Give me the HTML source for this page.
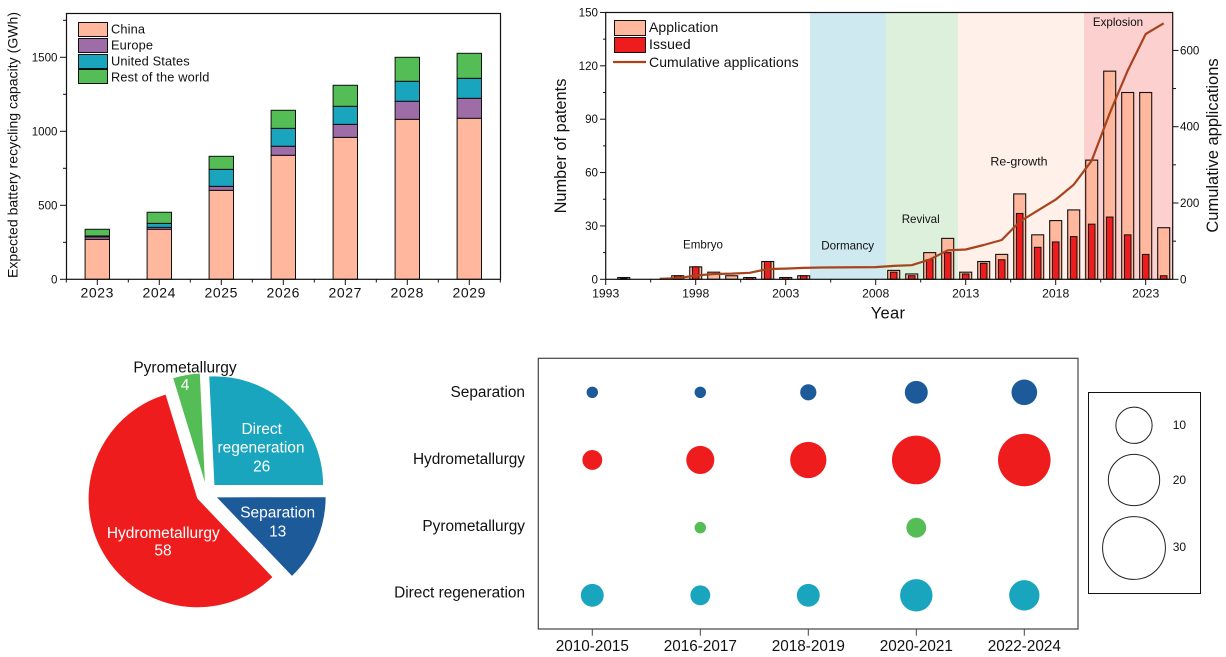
<!DOCTYPE html>
<html lang="en">
<head>
<meta charset="utf-8">
<title>Battery recycling charts</title>
<style>
html,body{margin:0;padding:0;background:#fff;}
svg{display:block;font-family:"Liberation Sans",Arial,sans-serif;fill:#111;}
text{fill:#111;}
</style>
</head>
<body>
<svg id="figure" xmlns="http://www.w3.org/2000/svg" width="1226" height="657" viewBox="0 0 1226 657">
  <rect x="0" y="0" width="1226" height="657" fill="#fff"/>

  <g id="capacity">
    <g id="capacity-marks"></g>
    <rect x="66.5" y="13.5" width="434" height="265.8" fill="none" stroke="#111" stroke-width="1.2"/>
    <g id="capacity-axes"></g>
    <text transform="translate(17.5 145) rotate(-90)" text-anchor="middle" font-size="14" textLength="266" lengthAdjust="spacing">Expected battery recycling capacity (GWh)</text>
    <g font-size="12.8" letter-spacing="0.15">
      <rect x="78.5" y="22.5" width="29" height="14" fill="#ffb89e" stroke="#111" stroke-width="1"/>
      <text x="111" y="33.5">China</text>
      <rect x="78.5" y="38.5" width="29" height="14" fill="#9e6da8" stroke="#111" stroke-width="1"/>
      <text x="111" y="49.5">Europe</text>
      <rect x="78.5" y="54.5" width="29" height="14" fill="#1aa5bf" stroke="#111" stroke-width="1"/>
      <text x="111" y="65.5">United States</text>
      <rect x="78.5" y="69.5" width="29" height="14" fill="#55bd55" stroke="#111" stroke-width="1"/>
      <text x="111" y="81.5">Rest of the world</text>
    </g>
  </g>

  <g id="patents">
    <g id="patent-bands"></g>
    <g id="patent-marks"></g>
    <path id="patent-line" fill="none" stroke="#a8431c" stroke-width="2.2" stroke-linejoin="round"/>
    <rect x="605.7" y="12.5" width="567" height="266.8" fill="none" stroke="#111" stroke-width="1.2"/>
    <g id="patent-axes"></g>
    <text x="888" y="318.5" text-anchor="middle" font-size="16.5" letter-spacing="0.3">Year</text>
    <text transform="translate(566 146) rotate(-90)" text-anchor="middle" font-size="16.4">Number of patents</text>
    <text transform="translate(1218 145.5) rotate(-90)" text-anchor="middle" font-size="16.5">Cumulative applications</text>
    <g font-size="11.6" text-anchor="middle">
      <text x="703" y="248.5">Embryo</text>
      <text x="847.7" y="249.5">Dormancy</text>
      <text x="920.7" y="223">Revival</text>
      <text x="1019" y="165.7" font-size="12.4">Re-growth</text>
      <text x="1118" y="26">Explosion</text>
    </g>
    <g font-size="14" letter-spacing="0.08">
      <rect x="614.5" y="20.5" width="31" height="15" fill="#ffb89e" stroke="#111" stroke-width="1"/>
      <text x="649" y="32">Application</text>
      <rect x="614.5" y="37.5" width="31" height="15" fill="#ee1c1c" stroke="#111" stroke-width="1"/>
      <text x="649" y="49">Issued</text>
      <line x1="613" x2="646" y1="62" y2="62" stroke="#a8431c" stroke-width="2.2"/>
      <text x="649" y="67">Cumulative applications</text>
    </g>
  </g>

  <g id="pie"></g>

  <g id="bubble">
    <rect x="538.3" y="358.3" width="539.7" height="270.7" fill="none" stroke="#444" stroke-width="1.2"/>
    <g id="bubble-marks"></g>
    <g id="bubble-axes"></g>
    <g>
      <rect x="1088.5" y="392.5" width="112" height="201" fill="none" stroke="#111" stroke-width="1"/>
      <g id="size-legend-items"></g>
    </g>
  </g>
</svg>

<script>
// ---------- Capacity chart data ----------
const capacityYears = ['2023','2024','2025','2026','2027','2028','2029'];
const capacityChina = [270,338,601,838,959,1081,1088];
const capacityEurope = [16,13,27,61,88,122,135];
const capacityUS = [7,27,115,121,122,135,135];
const capacityRest = [45,75,88,122,142,162,169];
const capacityTicks = [0,500,1000,1500];
const capacityMinorTicks = [250,750,1250,1750];

// ---------- Patent chart data ----------
const patentYears = [1994,1997,1998,1999,2000,2001,2002,2003,2004,2009,2010,2011,2012,2013,2014,2015,2016,2017,2018,2019,2020,2021,2022,2023,2024];
const patentApplications = [1,2,7,4,2,1,10,1,2,5,3,15,23,4,10,14,48,25,33,39,67,117,105,105,29];
const patentIssued = [0.5,2,7,0,0,1,10,1,2,4,2,11,15,3,9,11,37,18,21,24,31,35,25,14,2];
const cumulativeYears = [1996,1997,1998,1999,2000,2001,2002,2003,2004,2005,2008,2009,2010,2011,2012,2013,2014,2015,2016,2017,2018,2019,2020,2021,2022,2023,2024];
const cumulativeValues = [1,3,10,14,15,17,27,28,30,31,32,35,37,52,76,78,90,103,151,180,209,248,311,435,547,643,671];
const patentYearTicks = [1993,1998,2003,2008,2013,2018,2023];
const patentCountTicks = [0,30,60,90,120,150];
const patentCumulativeTicks = [0,200,400,600];
const patentCumulativeMinorTicks = [100,300,500];
const stageNames = ['dormancy','revival','re-growth','explosion'];
const stageStartYears = [2004.35,2008.57,2012.57,2019.57];
const stageEndYears = [2008.57,2012.57,2019.57,2024.5];
const stageColors = ['#cfe9f0','#dcf0dc','#fff0ea','#fdd0d0'];

// ---------- Pie chart data ----------
const pieNames = ['Direct regeneration','Separation','Hydrometallurgy','Pyrometallurgy'];
const pieValues = [26,13,58,4];
const pieColors = ['#1aa5bf','#1c5a9a','#ee1c1c','#55bd55'];

// ---------- Bubble chart data ----------
const bubblePeriods = ['2010-2015','2016-2017','2018-2019','2020-2021','2022-2024'];
const bubbleTechnologies = ['Separation','Hydrometallurgy','Pyrometallurgy','Direct regeneration'];
const bubbleSeparation = [1,1,2,4,5];
const bubbleHydrometallurgy = [3,6,10,18,21];
const bubblePyrometallurgy = [0,1,0,3,0];
const bubbleDirect = [4,3,4,8,7];
const bubbleColors = ['#1c5a9a','#ee1c1c','#55bd55','#1aa5bf'];
const sizeLegendValues = [10,20,30];

// ---------- Helpers ----------
const NS = 'http://www.w3.org/2000/svg';
function make(tag, attrs, parent){
  const node = document.createElementNS(NS, tag);
  for (const k in attrs) node.setAttribute(k, attrs[k]);
  parent.appendChild(node);
  return node;
}
function label(str, attrs, parent){
  const node = make('text', attrs, parent);
  node.textContent = str;
  return node;
}
const byId = id => document.getElementById(id);

// ---------- Capacity chart ----------
const capX = i => 97.3 + 62 * i;
const capY = v => 279.3 - v * 0.148;
(function(){
  const marks = byId('capacity-marks');
  const axes = byId('capacity-axes');
  const stacks = [capacityChina, capacityEurope, capacityUS, capacityRest];
  const stackNames = ['china','europe','united-states','rest-of-world'];
  const stackColors = ['#ffb89e','#9e6da8','#1aa5bf','#55bd55'];
  capacityYears.forEach((yr, i) => {
    let base = 0;
    stacks.forEach((series, s) => {
      const top = base + series[i];
      const r = make('rect', {x: capX(i) - 12.2, y: capY(top), width: 24.4, height: capY(base) - capY(top), fill: stackColors[s], stroke: '#111', 'stroke-width': 1}, marks);
      
      
      base = top;
    });
    const t = make('line', {x1: capX(i), x2: capX(i), y1: 279.3, y2: 285, stroke: '#111', 'stroke-width': 1}, axes);
    
    
    const tl = label(yr, {x: capX(i), y: 297.7, 'text-anchor': 'middle', 'font-size': 14, 'letter-spacing': 0.6}, axes);
    
    
    const mt = make('line', {x1: capX(i) - 31, x2: capX(i) - 31, y1: 279.3, y2: 282.5, stroke: '#111', 'stroke-width': 1}, axes);
    
    
  });
  const lastMinor = make('line', {x1: 500.3, x2: 500.3, y1: 279.3, y2: 282.5, stroke: '#111', 'stroke-width': 1}, axes);
  
  
  capacityTicks.forEach(v => {
    const t = make('line', {x1: 60, x2: 66.5, y1: capY(v), y2: capY(v), stroke: '#111', 'stroke-width': 1}, axes);
    
    
    const tl = label(String(v), {x: 57.5, y: capY(v) + 4.2, 'text-anchor': 'end', 'font-size': 11.6}, axes);
    
    
  });
  capacityMinorTicks.forEach(v => {
    const t = make('line', {x1: 63, x2: 66.5, y1: capY(v), y2: capY(v), stroke: '#111', 'stroke-width': 1}, axes);
    
    
  });
})();

// ---------- Patent chart ----------
const patX = y => 605.7 + (y - 1993) * 18;
const patY = v => 279.3 - v * 1.779;
const cumY = v => 279.3 - v * 0.3815;
(function(){
  const bands = byId('patent-bands');
  stageNames.forEach((n, i) => {
    const r = make('rect', {x: patX(stageStartYears[i]), y: 12.5, width: patX(stageEndYears[i]) - patX(stageStartYears[i]), height: 266.8, fill: stageColors[i]}, bands);
    
    
  });
  const marks = byId('patent-marks');
  patentYears.forEach((yr, i) => {
    const a = make('rect', {x: patX(yr) - 6, y: patY(patentApplications[i]), width: 12, height: patY(0) - patY(patentApplications[i]), fill: '#ffb89e', stroke: '#111', 'stroke-width': 1.1}, marks);
    
    
    if (patentIssued[i] > 0) {
      const b = make('rect', {x: patX(yr) - 3.3, y: patY(patentIssued[i]), width: 6.6, height: patY(0) - patY(patentIssued[i]), fill: '#ee1c1c', stroke: '#111', 'stroke-width': 1}, marks);
      
      
    }
  });
  byId('patent-line').setAttribute('d', cumulativeYears.map((y, i) => (i ? 'L' : 'M') + patX(y).toFixed(1) + ' ' + cumY(cumulativeValues[i]).toFixed(1)).join(' '));

  const axes = byId('patent-axes');
  patentYearTicks.forEach((y, i) => {
    const t = make('line', {x1: patX(y), x2: patX(y), y1: 279.3, y2: 285, stroke: '#111', 'stroke-width': 1}, axes);
    
    
    const tl = label(String(y), {x: patX(y), y: 297.7, 'text-anchor': 'middle', 'font-size': 12.2}, axes);
    
    
    if (i < patentYearTicks.length - 1) {
      const mid = (y + patentYearTicks[i + 1]) / 2;
      const mt = make('line', {x1: patX(mid), x2: patX(mid), y1: 279.3, y2: 282.5, stroke: '#111', 'stroke-width': 1}, axes);
      
      
    }
  });
  patentCountTicks.forEach((v, i) => {
    const t = make('line', {x1: 600, x2: 605.7, y1: patY(v), y2: patY(v), stroke: '#111', 'stroke-width': 1}, axes);
    
    
    const tl = label(String(v), {x: 598, y: patY(v) + 4, 'text-anchor': 'end', 'font-size': 11.6}, axes);
    
    
    if (i < patentCountTicks.length - 1) {
      const mv = (v + patentCountTicks[i + 1]) / 2;
      const mt = make('line', {x1: 603, x2: 605.7, y1: patY(mv), y2: patY(mv), stroke: '#111', 'stroke-width': 1}, axes);
      
      
    }
  });
  patentCumulativeTicks.forEach(v => {
    const t = make('line', {x1: 1172.7, x2: 1178.5, y1: cumY(v), y2: cumY(v), stroke: '#111', 'stroke-width': 1}, axes);
    
    
    const tl = label(String(v), {x: 1180, y: cumY(v) + 4, 'font-size': 11.6}, axes);
    
    
  });
  patentCumulativeMinorTicks.forEach(v => {
    const t = make('line', {x1: 1172.7, x2: 1176, y1: cumY(v), y2: cumY(v), stroke: '#111', 'stroke-width': 1}, axes);
    
    
  });
})();

// ---------- Pie chart ----------
(function(){
  const g = byId('pie');
  const cx = 206.8, cy = 493, radius = 108.7, explode = 11;
  const total = pieValues.reduce((a, b) => a + b, 0);
  let angle = -2.7;
  pieValues.forEach((v, i) => {
    const sweep = v / total * 360;
    const mid = (angle + sweep / 2) * Math.PI / 180;
    const ox = cx + explode * Math.sin(mid), oy = cy - explode * Math.cos(mid);
    const a0 = angle * Math.PI / 180, a1 = (angle + sweep) * Math.PI / 180;
    const d = 'M' + ox + ' ' + oy +
      ' L' + (ox + radius * Math.sin(a0)) + ' ' + (oy - radius * Math.cos(a0)) +
      ' A' + radius + ' ' + radius + ' 0 ' + (sweep > 180 ? 1 : 0) + ' 1 ' + (ox + radius * Math.sin(a1)) + ' ' + (oy - radius * Math.cos(a1)) + ' Z';
    const p = make('path', {d: d, fill: pieColors[i]}, g);
    
    
    angle += sweep;
  });
  const style = {'text-anchor': 'middle', 'font-size': 15.5, style: 'fill:#fff'};
  function pieText(str, x, y, name, dark){
    const t = label(str, Object.assign({}, style, {x: x, y: y}, dark ? {style: 'fill:#111'} : {}), g);
    
    
  }
  pieText('Direct', 261.7, 434, 'pie-label-direct-line-1');
  pieText('regeneration', 261, 452.7, 'pie-label-direct-line-2');
  pieText(String(pieValues[0]), 261.7, 471.7, 'pie-value-direct');
  pieText(pieNames[1], 277.7, 517.7, 'pie-label-separation');
  pieText(String(pieValues[1]), 277.7, 536.7, 'pie-value-separation');
  pieText(pieNames[2], 163.3, 538, 'pie-label-hydrometallurgy');
  pieText(String(pieValues[2]), 163, 555.7, 'pie-value-hydrometallurgy');
  pieText(pieNames[3], 185, 372.5, 'pie-label-pyrometallurgy', true);
  pieText(String(pieValues[3]), 185, 390, 'pie-value-pyrometallurgy');
})();

// ---------- Bubble chart ----------
const bubX = i => 592.3 + 108 * i;
const bubY = j => 392.3 + 67.67 * j;
const bubD = v => 11.47 * Math.sqrt(v);
(function(){
  const marks = byId('bubble-marks');
  const axes = byId('bubble-axes');
  const rows = [bubbleSeparation, bubbleHydrometallurgy, bubblePyrometallurgy, bubbleDirect];
  rows.forEach((row, j) => {
    row.forEach((v, i) => {
      if (v <= 0) return;
      const c = make('circle', {cx: bubX(i), cy: bubY(j), r: bubD(v) / 2, fill: bubbleColors[j]}, marks);
      
      
    });
    const tl = label(bubbleTechnologies[j], {x: 525, y: 397 + 66.9 * j, 'text-anchor': 'end', 'font-size': 15.4}, axes);
    
    
  });
  bubblePeriods.forEach((p, i) => {
    const t = make('line', {x1: bubX(i), x2: bubX(i), y1: 629, y2: 635.7, stroke: '#444', 'stroke-width': 1}, axes);
    
    
    const tl = label(p, {x: bubX(i), y: 651, 'text-anchor': 'middle', 'font-size': 15.3}, axes);
    
    
  });
  const legendItems = byId('size-legend-items');
  const centers = [425.3, 480, 548];
  const baselines = [429, 484, 551];
  sizeLegendValues.forEach((v, i) => {
    const c = make('circle', {cx: 1134, cy: centers[i], r: bubD(v) / 2, fill: 'none', stroke: '#222', 'stroke-width': 1}, legendItems);
    
    
    const t = label(String(v), {x: 1172.7, y: baselines[i], 'font-size': 12}, legendItems);
    
    
  });
})();
</script>
</body>
</html>
